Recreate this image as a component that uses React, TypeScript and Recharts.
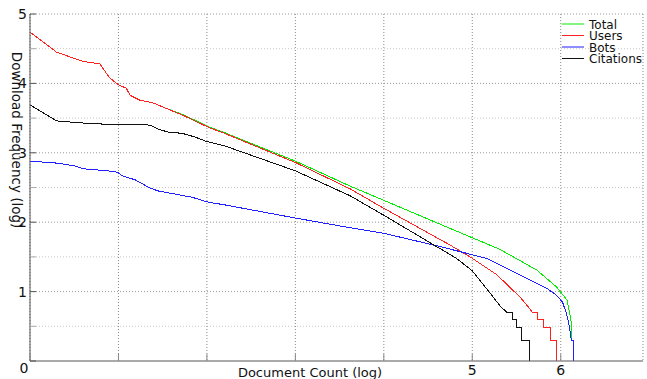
import React from 'react';
import { LineChart, Line, XAxis, YAxis, CartesianGrid } from 'recharts';

// log10 document count (x) vs log10 download frequency (y)
const totalX = [0, 0.3, 0.59, 0.79, 0.9, 1.0, 1.09, 1.13, 1.24, 1.39, 1.54, 1.73, 2.03, 2.2, 3.0, 3.62, 4.75, 5.31, 5.73, 5.95, 6.07, 6.1, 6.12, 6.12];
const totalY = [4.74, 4.45, 4.32, 4.28, 4.08, 3.98, 3.93, 3.83, 3.76, 3.72, 3.64, 3.55, 3.37, 3.29, 2.88, 2.52, 1.91, 1.61, 1.31, 1.07, 0.88, 0.7, 0.55, 0.33];

const usersX = [0, 0.3, 0.59, 0.79, 0.9, 1.0, 1.09, 1.13, 1.24, 1.39, 1.54, 1.73, 2.03, 2.2, 3.0, 3.62, 4.0, 4.75, 5.0, 5.28, 5.54, 5.62, 5.68, 5.74, 5.74, 5.8, 5.8, 5.88, 5.88, 5.95, 5.95];
const usersY = [4.74, 4.45, 4.32, 4.28, 4.08, 3.98, 3.93, 3.83, 3.76, 3.72, 3.64, 3.54, 3.36, 3.28, 2.86, 2.48, 2.2, 1.67, 1.48, 1.24, 0.92, 0.8, 0.7, 0.7, 0.6, 0.6, 0.48, 0.48, 0.3, 0.3, 0];

const botsX = [0, 0.32, 0.51, 0.6, 0.88, 0.99, 1.04, 1.19, 1.36, 1.45, 1.83, 2.01, 2.2, 3.0, 3.62, 4.0, 4.6, 5.16, 5.54, 5.84, 5.95, 6.02, 6.06, 6.08, 6.1, 6.12, 6.14, 6.14];
const botsY = [2.88, 2.85, 2.81, 2.77, 2.74, 2.72, 2.67, 2.61, 2.49, 2.45, 2.36, 2.29, 2.25, 2.06, 1.92, 1.84, 1.66, 1.48, 1.24, 1.05, 0.95, 0.85, 0.7, 0.6, 0.48, 0.3, 0.3, 0];

const citationsX = [0, 0.3, 0.59, 0.88, 1.36, 1.45, 1.56, 1.72, 1.86, 1.98, 2.2, 3.0, 3.62, 4.0, 4.82, 5.0, 5.2, 5.31, 5.39, 5.45, 5.45, 5.5, 5.5, 5.56, 5.56, 5.65, 5.65];
const citationsY = [3.69, 3.46, 3.43, 3.41, 3.4, 3.34, 3.3, 3.28, 3.23, 3.17, 3.1, 2.74, 2.38, 2.1, 1.48, 1.3, 0.98, 0.8, 0.7, 0.7, 0.6, 0.6, 0.48, 0.48, 0.3, 0.3, 0];

const seriesNames = ['Total', 'Users', 'Bots', 'Citations'];
const seriesColors = ['#00ee00', '#ff2020', '#1f1fff', '#111111'];

const xTicks = [0, 1, 2, 3, 4, 5, 6];
const xTickLabels = ['0', '', '', '', '', '5', '6'];
const yTicks = [0, 0.5, 1, 1.5, 2, 2.5, 3, 3.5, 4, 4.5, 5];
const yTickLabels = ['', '', '1', '', '2', '', '3', '', '4', '', '5'];
const yMajor = [1, 2, 3, 4, 5];
const yMinor = [0.5, 1.5, 2.5, 3.5, 4.5];

const zip = (xs: number[], ys: number[]) => xs.map((x, i) => ({ x, y: ys[i] }));
const seriesData = [
  zip(totalX, totalY),
  zip(usersX, usersY),
  zip(botsX, botsY),
  zip(citationsX, citationsY),
];

const font = '"DejaVu Sans", sans-serif';
const axisColor = '#555';

const LeftTick = (props: any) => {
  const { x, y, payload, index } = props;
  const major = Number.isInteger(payload.value);
  return (
    <g>
      <line x1={x} y1={y} x2={x + 6} y2={y} stroke={major ? axisColor : '#aaa'} />
      <text x={x - 3} y={y + 5} textAnchor="end" fontSize={14} fill="#111" fontFamily={font}>
        {yTickLabels[index]}
      </text>
    </g>
  );
};

const RightTick = (props: any) => {
  const { x, y, payload } = props;
  const major = Number.isInteger(payload.value);
  return <line x1={x - 6} y1={y} x2={x} y2={y} stroke={major ? axisColor : '#aaa'} />;
};

const BottomTick = (props: any) => {
  const { x, y, index } = props;
  return (
    <g>
      <line x1={x} y1={y} x2={x} y2={y - 7} stroke="#888" />
      <text x={index === 0 ? x - 6 : x} y={index === 0 ? y + 12 : y + 14} textAnchor="middle" fontSize={14} fill="#111" fontFamily={font}>
        {xTickLabels[index]}
      </text>
    </g>
  );
};

const TopTick = (props: any) => {
  const { x, y } = props;
  return <line x1={x} y1={y} x2={x} y2={y + 6} stroke="#aaa" />;
};

const YTitle = () => (
  <text x={12} y={140} transform="rotate(90, 12, 140)" textAnchor="middle" fontSize={13.5} fill="#111" fontFamily={font}>
    Download Frequency (log)
  </text>
);

const XTitle = () => (
  <text x={310} y={377} textAnchor="middle" fontSize={13} fill="#111" fontFamily={font}>
    Document Count (log)
  </text>
);

// legend box in the top-right corner
const LegendBox = () => (
  <g fontFamily={font} fontSize={12} fill="#111">
    {seriesNames.map((n, i) => (
      <g key={n}>
        <line x1={562} y1={24 + i * 11.5} x2={584} y2={24 + i * 11.5} stroke={seriesColors[i]} />
        <text x={589} y={28.5 + i * 11.5}>{n}</text>
      </g>
    ))}
  </g>
);

export default function App() {
  return (
    <div style={{ position: 'absolute', left: 0, top: 0, width: 647, height: 379, background: '#fff' }}>
      <LineChart width={647} height={379} margin={{ top: 0, right: 0, bottom: 0, left: 0 }}>
        <CartesianGrid vertical={false} horizontalValues={yMinor} stroke="#c8c8c8" strokeDasharray="1 2" />
        <CartesianGrid vertical={false} horizontalValues={yMajor} stroke="#999" strokeDasharray="1 2" />
        <CartesianGrid horizontal={false} stroke="#888" strokeDasharray="1 2" />
        <XAxis
          type="number"
          dataKey="x"
          domain={[0, 6.93]}
          ticks={xTicks}
          allowDataOverflow
          height={18}
          axisLine={{ stroke: axisColor }}
          tickLine={false}
          tickSize={0}
          tickMargin={0}
          tick={<BottomTick />}
          label={<XTitle />}
        />
        <XAxis
          xAxisId="top"
          orientation="top"
          type="number"
          domain={[0, 6.93]}
          ticks={xTicks}
          height={14}
          axisLine={false}
          tickLine={false}
          tickSize={0}
          tickMargin={0}
          tick={<TopTick />}
          label={<LegendBox />}
        />
        <YAxis
          type="number"
          domain={[0, 5]}
          ticks={yTicks}
          width={30}
          axisLine={{ stroke: axisColor }}
          tickLine={false}
          tickSize={0}
          tickMargin={0}
          tick={<LeftTick />}
          label={<YTitle />}
        />
        <YAxis
          yAxisId="right"
          orientation="right"
          type="number"
          domain={[0, 5]}
          ticks={yTicks}
          width={4}
          axisLine={false}
          tickLine={false}
          tickSize={0}
          tickMargin={0}
          tick={<RightTick />}
        />
        {seriesData.map((d, i) => (
          <Line
            key={seriesNames[i]}
            data={d}
            dataKey="y"
            name={seriesNames[i]}
            type="linear"
            stroke={seriesColors[i]}
            strokeWidth={1}
            shapeRendering="crispEdges"
            dot={false}
            isAnimationActive={false}
          />
        ))}
      </LineChart>
    </div>
  );
}
